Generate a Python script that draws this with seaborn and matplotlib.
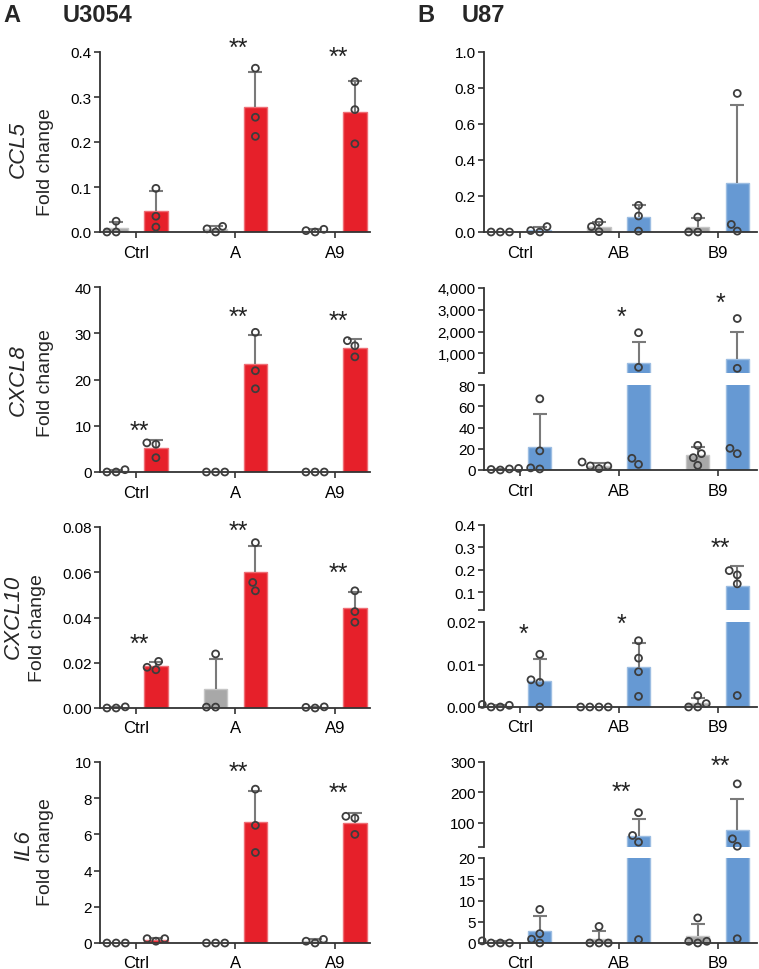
import numpy as np
import pandas as pd
import seaborn as sns
import matplotlib.pyplot as plt
from matplotlib.patches import Rectangle
from matplotlib.colors import to_rgb

sns.set_style('ticks')
plt.rcParams['font.family'] = ['Liberation Sans', 'DejaVu Sans']

# Colours
GRAY = '#a8a8a8'
RED = '#e6202a'
BLUE = '#6699d3'
PT_EDGE = '#3d3d3d'
ERR = '#7a7a7a'
AX = '#333333'

groups_a = ['Ctrl', 'A', 'A9']
groups_b = ['Ctrl', 'AB', 'B9']
conds = ['vehicle', 'treated']

# ---- CCL5 ----
ccl5_a_veh = [[0.0, 0.024, 0.0], [0.0, 0.0125, 0.007], [0.0, 0.006, 0.003]]
ccl5_a_trt = [[0.097, 0.035, 0.011], [0.364, 0.255, 0.2125], [0.334, 0.272, 0.196]]
ccl5_a_stars = [('A', '**', 0.41), ('A9', '**', 0.39)]

ccl5_b_veh = [[0.0, 0.0, 0.0], [0.055, 0.002, 0.03], [0.083, 0.0, 0.0]]
ccl5_b_trt = [[0.0, 0.03, 0.008], [0.148, 0.089, 0.005], [0.77, 0.042, 0.005]]
ccl5_b_stars = []

# ---- CXCL8 ----
cxcl8_a_veh = [[0.0, 0.5, 0.0], [0.0, 0.0, 0.0], [0.0, 0.0, 0.0]]
cxcl8_a_trt = [[6.3, 6.0, 3.1], [30.2, 21.9, 18.0], [28.4, 27.3, 24.9]]
cxcl8_a_stars = [('Ctrl', '**', 8.8), ('A', '**', 33.6), ('A9', '**', 32.7)]

cxcl8_b_veh = [[0.0, 1.5, 0.5, 1.0], [7.5, 1.3, 3.8, 3.8], [15.4, 23.2, 11.6, 4.4]]
cxcl8_b_trt = [[67, 18, 1, 2], [1950, 360, 5.3, 11], [2600, 315, 15.4, 20.4]]
cxcl8_b_stars = [('AB', '*', 2674), ('B9', '*', 3329)]

# ---- CXCL10 ----
cxcl10_a_veh = [[0.0, 0.0005, 0.0], [0.0239, 0.0004, 0.0004], [0.0, 0.0005, 0.0003]]
cxcl10_a_trt = [[0.0206, 0.0169, 0.018], [0.0731, 0.0555, 0.0518], [0.0518, 0.0426, 0.0379]]
cxcl10_a_stars = [('Ctrl', '**', 0.0283), ('A', '**', 0.0785), ('A9', '**', 0.0599)]

cxcl10_b_veh = [[0.0, 0.0006, 0.0, 0.0004], [0.0, 0.0, 0.0, 0.0], [0.0, 0.0027, 0.0008, 0.0]]
cxcl10_b_trt = [[0.0124, 0.0064, 0.0058, 0.0], [0.0156, 0.0115, 0.0083, 0.0025],
                [0.177, 0.196, 0.137, 0.0027]]
cxcl10_b_stars = [('Ctrl', '*', 0.0173), ('AB', '*', 0.0195), ('B9', '**', 0.30)]

# ---- IL6 ----
il6_a_veh = [[0.0, 0.0, 0.0], [0.0, 0.0, 0.0], [0.0, 0.2, 0.1]]
il6_a_trt = [[0.1, 0.24, 0.24], [8.5, 6.5, 5.0], [7.0, 6.9, 6.0]]
il6_a_stars = [('A', '**', 9.45), ('A9', '**', 8.3)]

il6_b_veh = [[0.0, 0.5, 0.0, 0.0], [3.9, 0.0, 0.0, 0.0], [5.9, 0.0, 0.4, 0.4]]
il6_b_trt = [[7.9, 2.2, 0.0, 0.9], [133, 58, 36, 0.8], [228, 47, 22.5, 1.0]]
il6_b_stars = [('AB', '**', 202), ('B9', '**', 287)]

genes = ['CCL5', 'CXCL8', 'CXCL10', 'IL6']

W, H = 759, 970
fig = plt.figure(figsize=(W / 100, H / 100), dpi=100)


def px_axes(x0, x1, y0, y1):
    return fig.add_axes([x0 / W, 1 - y1 / H, (x1 - x0) / W, (y1 - y0) / H])


def make_df(groups, veh, trt):
    rows = []
    for g, v, t in zip(groups, veh, trt):
        rows += [(g, conds[0], x) for x in v]
        rows += [(g, conds[1], x) for x in t]
    return pd.DataFrame(rows, columns=['group', 'cond', 'value'])


def lighten(c, f=0.35):
    r = np.array(to_rgb(c))
    return tuple(r + (1 - r) * f)


def draw_panel(ax, df, groups, color, ylim, yticks, ylabels, xlim, role, stars):
    sns.barplot(data=df, x='group', y='value', hue='cond', order=groups, hue_order=conds,
                palette=[GRAY, color], saturation=1, errorbar=None, width=0.8, gap=0.41,
                legend=False, ax=ax)
    for p in ax.patches:
        p.set_edgecolor(lighten(p.get_facecolor()))
        p.set_linewidth(1)

    # mean + SD, upward only
    sd = df.groupby(['group', 'cond'])['value'].std()
    for p in ax.patches:
        xc = p.get_x() + p.get_width() / 2
        gi = int(round(xc))
        cond = conds[0] if xc < gi else conds[1]
        s = sd.loc[(groups[gi], cond)]
        m = p.get_height()
        top = m + s
        if s <= 0 or top <= ylim[0]:
            continue
        ax.vlines(xc, m, top, color=ERR, lw=1.5, zorder=2)
        if top <= ylim[1]:
            ax.plot([xc], [top], marker='_', ms=10, mew=1.5, color=ERR, zorder=2)

    # only the points that belong to this segment of a broken axis
    if role == 'upper':
        pts = df[df['value'] >= ylim[0]]
    elif role == 'lower':
        pts = df[df['value'] <= ylim[1]]
    else:
        pts = df
    n0 = len(ax.collections)
    sns.swarmplot(data=pts, x='group', y='value', hue='cond', order=groups, hue_order=conds,
                  palette=[GRAY, color], dodge=True, size=5, linewidth=1.3,
                  legend=False, ax=ax, zorder=3)
    clip = Rectangle((-0.1, -0.1), 1.2, 1.3, transform=ax.transAxes)
    for coll in ax.collections[n0:]:
        coll.set_facecolor('none')
        coll.set_edgecolor(PT_EDGE)
        coll.set_clip_path(clip)

    ax.set_ylim(*ylim)
    ax.set_yticks(yticks)
    ax.set_yticklabels(ylabels)
    ax.set_xlim(*xlim)
    ax.set_xlabel('')
    ax.set_ylabel('')

    for g, label, yv in stars:
        ax.text(groups.index(g) + 0.03, yv, label, ha='center', va='center',
                fontsize=18, color='#222222')

    sns.despine(ax=ax)
    for s in ['left', 'bottom']:
        ax.spines[s].set_linewidth(1.3)
        ax.spines[s].set_color(AX)
    ax.tick_params(axis='both', colors=AX, width=1.2, length=4, labelcolor='black')
    ax.tick_params(axis='y', labelsize=11, pad=2)
    ax.tick_params(axis='x', labelsize=12, pad=5)
    if role == 'upper':
        ax.spines['bottom'].set_visible(False)
        ax.tick_params(axis='x', bottom=False, labelbottom=False)


XLIM_A = (-0.362, 2.352)
XLIM_B = (-0.365, 2.40)


def fmt(vals, f):
    return [f.format(v) for v in vals]


# ---------- column A : U3054 ----------
rows_a = [(53, 233), (288, 473), (528, 709), (763, 944)]
a_data = [
    (ccl5_a_veh, ccl5_a_trt, ccl5_a_stars, (0, 0.4), np.arange(0, 0.41, 0.1), '{:.1f}'),
    (cxcl8_a_veh, cxcl8_a_trt, cxcl8_a_stars, (0, 40), np.arange(0, 41, 10), '{:.0f}'),
    (cxcl10_a_veh, cxcl10_a_trt, cxcl10_a_stars, (0, 0.08), np.arange(0, 0.081, 0.02), '{:.2f}'),
    (il6_a_veh, il6_a_trt, il6_a_stars, (0, 10), np.arange(0, 11, 2), '{:.0f}'),
]
for (y0, y1), (veh, trt, stars, yl, yt, f) in zip(rows_a, a_data):
    ax = px_axes(100, 370, y0, y1)
    df = make_df(groups_a, veh, trt)
    draw_panel(ax, df, groups_a, RED, yl, yt, fmt(yt, f), XLIM_A, 'full', stars)

# ---------- column B : U87 ----------
ax = px_axes(484, 757, 53, 233)
yt = np.arange(0, 1.01, 0.2)
draw_panel(ax, make_df(groups_b, ccl5_b_veh, ccl5_b_trt), groups_b, BLUE, (0, 1.0), yt,
           fmt(yt, '{:.1f}'), XLIM_B, 'full', ccl5_b_stars)

broken = [
    ((289, 374), (386, 471), cxcl8_b_veh, cxcl8_b_trt, cxcl8_b_stars,
     (100, 4000), [100, 1000, 2000, 3000, 4000], ['', '1,000', '2,000', '3,000', '4,000'],
     (0, 80), [0, 20, 40, 60, 80], ['0', '20', '40', '60', '80']),
    ((526, 611), (623, 708), cxcl10_b_veh, cxcl10_b_trt, cxcl10_b_stars,
     (0.02, 0.4), [0.02, 0.1, 0.2, 0.3, 0.4], ['', '0.1', '0.2', '0.3', '0.4'],
     (0, 0.02), [0, 0.01, 0.02], ['0.00', '0.01', '0.02']),
    ((763, 848), (859, 944), il6_b_veh, il6_b_trt, il6_b_stars,
     (20, 300), [20, 100, 200, 300], ['', '100', '200', '300'],
     (0, 20), [0, 5, 10, 15, 20], ['0', '5', '10', '15', '20']),
]
for up, lo, veh, trt, stars, ul, ut, utl, ll, lt, ltl in broken:
    df = make_df(groups_b, veh, trt)
    ax_up = px_axes(484, 757, up[0], up[1])
    ax_lo = px_axes(484, 757, lo[0], lo[1])
    st_up = [s for s in stars if s[2] > ul[0]]
    st_lo = [s for s in stars if s[2] <= ul[0]]
    draw_panel(ax_up, df, groups_b, BLUE, ul, ut, utl, XLIM_B, 'upper', st_up)
    draw_panel(ax_lo, df, groups_b, BLUE, ll, lt, ltl, XLIM_B, 'lower', st_lo)

# ---------- y labels ----------
label_pos = [((18, 150), (46, 162)), ((18, 380), (46, 383)),
             ((13, 617), (37, 628)), ((24, 846), (45, 852))]
for gene, (gp, fp) in zip(genes, label_pos):
    fig.text(gp[0] / W, 1 - gp[1] / H, gene, rotation=90, ha='center', va='center',
             fontsize=16, style='italic')
    fig.text(fp[0] / W, 1 - fp[1] / H, 'Fold change', rotation=90, ha='center',
             va='center', fontsize=14)

# ---------- panel headers ----------
fig.text(3 / W, 1 - 22 / H, 'A', fontsize=17, fontweight='bold', va='baseline')
fig.text(63 / W, 1 - 22 / H, 'U3054', fontsize=17, fontweight='bold', va='baseline')
fig.text(417 / W, 1 - 22 / H, 'B', fontsize=17, fontweight='bold', va='baseline')
fig.text(462 / W, 1 - 22 / H, 'U87', fontsize=17, fontweight='bold', va='baseline')

fig.savefig('out.png', dpi=100)
